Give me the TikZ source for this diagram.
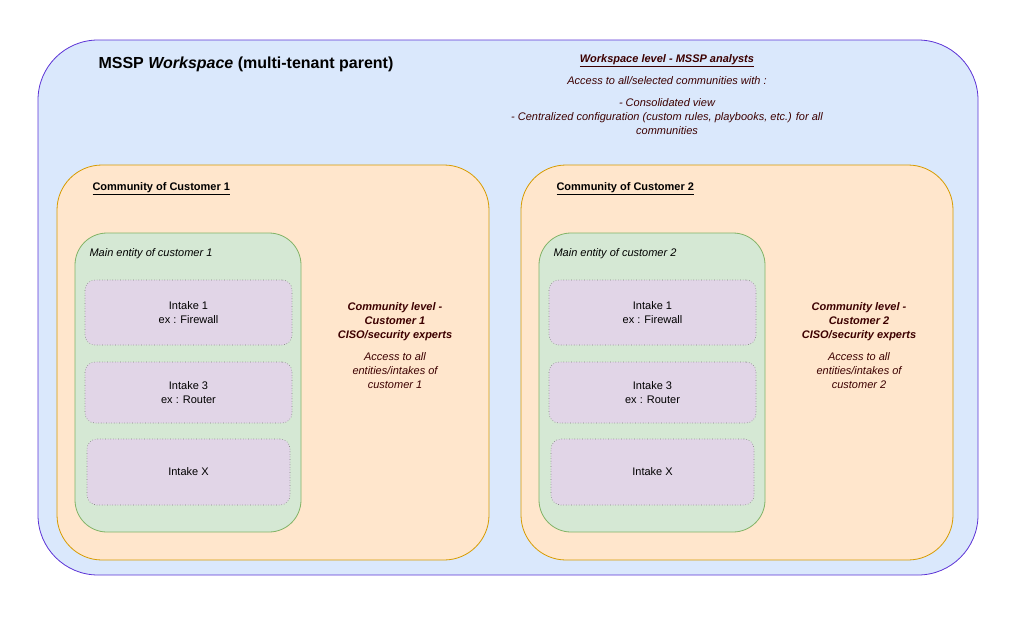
\documentclass[tikz,border=0pt]{standalone}
\usepackage{fontspec}
\setmainfont{Liberation Sans}
\begin{document}
\begin{tikzpicture}[x=1pt,y=-1pt,
 ws/.style={draw=blue!60!violet!80,fill={rgb,255:red,218;green,232;blue,252},rounded corners=60pt,line width=0.8pt},
 com/.style={draw={rgb,255:red,215;green,155;blue,0},fill={rgb,255:red,255;green,230;blue,204},rounded corners=45pt,line width=0.8pt},
 ent/.style={draw={rgb,255:red,130;green,179;blue,102},fill={rgb,255:red,213;green,232;blue,212},rounded corners=32pt,line width=0.8pt},
 intk/.style={draw=gray,dotted,fill={rgb,255:red,225;green,213;blue,231},rounded corners=10pt,line width=0.6pt},
 lab/.style={font=\fontsize{11}{14}\selectfont,align=center},
 red/.style={lab,text={rgb,255:red,60;green,0;blue,0},font=\fontsize{11}{14}\selectfont\itshape}]
\useasboundingbox (0,0) rectangle (1024,621);
\draw[ws] (38,40) rectangle (978,575);
\node[anchor=west,font=\fontsize{16}{19}\selectfont\bfseries] (title) at (95,64) {MSSP \textit{Workspace} (multi-tenant parent)};
\node[red] (wsl) at (667,95) {\textbf{\underline{Workspace level - MSSP analysts}}\\[8pt]Access to all/selected communities with :\\[8pt]- Consolidated view\\- Centralized configuration (custom rules, playbooks, etc.) for all\\communities};
\foreach \i/\dx in {1/0,2/464}{
 \begin{scope}[xshift=\dx]
 \draw[com] (57,165) rectangle (489,560);
 \node[anchor=west,lab,font=\fontsize{11}{14}\selectfont\bfseries] (c\i) at (89,189) {\underline{Community of Customer \i}};
 \draw[ent] (75,233) rectangle (301,532);
 \node[anchor=west,lab,font=\fontsize{11}{14}\selectfont\itshape] (e\i) at (86,254) {Main entity of customer \i};
 \node[intk,minimum width=207,minimum height=65] (a\i) at (188.5,312.5) {};
 \node[lab] at (a\i) {Intake 1\\ex : Firewall};
 \node[intk,minimum width=207,minimum height=61] (b\i) at (188.5,392.5) {};
 \node[lab] at (b\i) {Intake 3\\ex : Router};
 \node[intk,minimum width=203,minimum height=66] (x\i) at (188.5,472) {};
 \node[lab] at (x\i) {Intake X};
 \node[red] (cl\i) at (395,346) {\textbf{Community level -}\\\textbf{Customer \i}\\\textbf{CISO/security experts}\\[8pt]Access to all\\entities/intakes of\\customer \i};
 \end{scope}}
\end{tikzpicture}
\end{document}
